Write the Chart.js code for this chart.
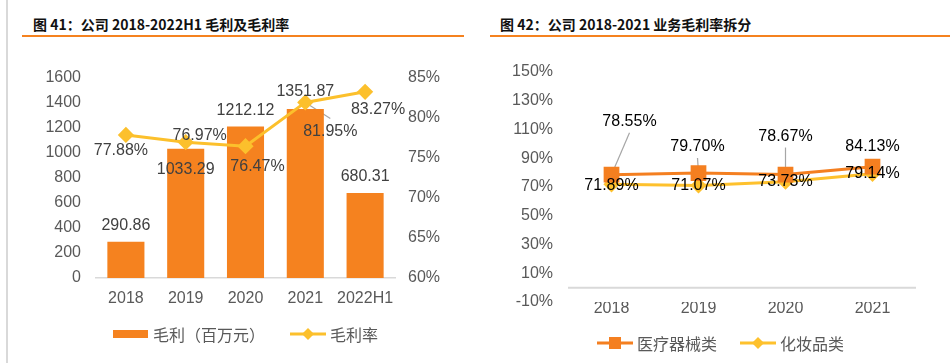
<!DOCTYPE html>
<html lang="zh-CN">
<head>
    <meta charset="UTF-8">
    <title>毛利及毛利率</title>
    <style>
        * { box-sizing: border-box; margin: 0; padding: 0; }
        body {
            width: 950px; height: 363px; background: #fff;
            position: relative; overflow: hidden;
            font-family: "Noto Sans CJK SC", sans-serif;
        }
        .edge { position: absolute; left: 6px; top: 0; width: 2px; height: 363px; background: #d9d9d9; }
        .title {
            position: absolute; top: 14px; font-size: 14px; line-height: 20px;
            font-weight: bold; color: #111; white-space: nowrap;
        }
        .rule { position: absolute; top: 35px; height: 2px; background: #f5821f; }
        .box { position: absolute; top: 40px; width: 475px; height: 323px; }
    </style>
</head>
<body>
    <div class="edge"></div>
    <div class="title" style="left:33px">图 41：公司 2018-2022H1 毛利及毛利率</div>
    <div class="rule" style="left:22px; width:442px"></div>
    <div class="title" style="left:500px">图 42：公司 2018-2021 业务毛利率拆分</div>
    <div class="rule" style="left:490px; width:460px"></div>

    <div class="box" style="left:0"><canvas id="chart1" width="475" height="323"></canvas></div>
    <div class="box" style="left:475px"><canvas id="chart2" width="475" height="323"></canvas></div>

    <script src="https://cdnjs.cloudflare.com/ajax/libs/Chart.js/4.4.1/chart.umd.min.js"></script>
    <script>
        // 数据
        const years1 = ['2018', '2019', '2020', '2021', '2022H1'];
        const grossProfit = [290.86, 1033.29, 1212.12, 1351.87, 680.31];   // 百万元
        const grossMargin = [77.88, 76.97, 76.47, 81.95, 83.27];           // %

        const years2 = ['2018', '2019', '2020', '2021'];
        const medical = [78.55, 79.70, 78.67, 84.13];     // 医疗器械类 %
        const cosmetics = [71.89, 71.07, 73.73, 79.14];   // 化妆品类 %

        // 标签位置 (像素偏移 dx, dy, 是否引线)
        const profitLabelPos = [[0, -16], [0, 21], [0, -16], [0, -17], [0, -16]];
        const marginLabelPos = [[-5, 16], [14, -7], [12, 20], [25, 29, true], [13, 18]];
        const medicalLabelPos = [[18, -53, true], [-1, -26, true], [0, -38, true], [0, -20]];
        const cosmeticsLabelPos = [[0, 1], [0, 0], [0, 0], [0, 0]];

        const ORANGE = '#f5821f';
        const YELLOW = '#fcc02c';
        const NUM_FONT = '"Liberation Sans", Arial, sans-serif';
        const CJK_FONT = '"Noto Sans CJK SC", sans-serif';
        const TICK = { color: '#595959', font: { size: 16, family: NUM_FONT } };

        // 数据标签插件
        const valueLabels = {
            id: 'valueLabels',
            beforeDatasetsDraw(chart, args, opts) {
                const ctx = chart.ctx;
                ctx.save();
                // 0 轴线
                if (opts.zeroLine) {
                    const y0 = chart.scales.y.getPixelForValue(0);
                    ctx.strokeStyle = '#d9d9d9';
                    ctx.lineWidth = 2;
                    ctx.beginPath();
                    ctx.moveTo(chart.chartArea.left, y0);
                    ctx.lineTo(chart.chartArea.right, y0);
                    ctx.stroke();
                }
                ctx.strokeStyle = '#a6a6a6';
                ctx.lineWidth = 1.2;
                chart.data.datasets.forEach((ds, i) => {
                    const meta = chart.getDatasetMeta(i);
                    meta.data.forEach((el, j) => {
                        const p = ds.labelPos[j];
                        if (!p[2]) return;
                        const lx = el.x + p[0], ly = el.y + p[1];
                        const ey = ly > el.y ? ly - 13 : ly + 11;
                        ctx.beginPath();
                        ctx.moveTo(el.x, el.y);
                        ctx.lineTo(lx, ey);
                        ctx.stroke();
                    });
                });
                ctx.restore();
            },
            afterDatasetsDraw(chart, args, opts) {
                const ctx = chart.ctx;
                ctx.save();
                ctx.font = '16px ' + NUM_FONT;
                ctx.textAlign = 'center';
                ctx.textBaseline = 'middle';
                ctx.fillStyle = opts.color;
                chart.data.datasets.forEach((ds, i) => {
                    const meta = chart.getDatasetMeta(i);
                    meta.data.forEach((el, j) => {
                        const p = ds.labelPos[j];
                        ctx.fillText(ds.labelFmt(ds.data[j]), el.x + p[0], el.y + p[1]);
                    });
                });
                ctx.restore();
            }
        };

        // 图例插件 (画在画布底部)
        function drawMarker(ctx, style, x, y, r, color) {
            ctx.fillStyle = color;
            ctx.beginPath();
            if (style === 'rect') {
                ctx.rect(x - r, y - r, r * 2, r * 2);
            } else {
                ctx.moveTo(x - r, y); ctx.lineTo(x, y - r);
                ctx.lineTo(x + r, y); ctx.lineTo(x, y + r);
                ctx.closePath();
            }
            ctx.fill();
        }
        const bottomLegend = {
            id: 'bottomLegend',
            afterDraw(chart, args, opts) {
                const ctx = chart.ctx;
                ctx.save();
                ctx.font = '16px ' + CJK_FONT;
                ctx.textBaseline = 'middle';
                opts.items.forEach(it => {
                    const y = opts.y;
                    if (it.kind === 'bar') {
                        ctx.fillStyle = it.color;
                        ctx.fillRect(it.x, y - 4, 35, 8);
                    } else {
                        ctx.strokeStyle = it.color;
                        ctx.lineWidth = 3;
                        ctx.beginPath();
                        ctx.moveTo(it.x, y); ctx.lineTo(it.x + 36, y);
                        ctx.stroke();
                        drawMarker(ctx, it.marker, it.x + 18, y, 6, it.color);
                    }
                    ctx.fillStyle = '#595959';
                    ctx.fillText(it.text, it.x + 40, y + 1);
                });
                ctx.restore();
            }
        };

        new Chart(document.getElementById('chart1'), {
            type: 'bar',
            data: {
                labels: years1,
                datasets: [
                    {
                        type: 'line',
                        label: '毛利率',
                        data: grossMargin,
                        yAxisID: 'y1',
                        order: 0,
                        borderColor: YELLOW,
                        backgroundColor: YELLOW,
                        borderWidth: 3,
                        pointStyle: 'rectRot',
                        pointRadius: 6,
                        tension: 0,
                        labelPos: marginLabelPos,
                        labelFmt: v => v.toFixed(2) + '%'
                    },
                    {
                        label: '毛利（百万元）',
                        data: grossProfit,
                        yAxisID: 'y',
                        order: 1,
                        backgroundColor: ORANGE,
                        categoryPercentage: 1,
                        barPercentage: 0.62,
                        labelPos: profitLabelPos,
                        labelFmt: v => v.toFixed(2)
                    }
                ]
            },
            options: {
                responsive: false,
                animation: false,
                layout: { padding: { top: 38, left: 0, right: 0, bottom: 0 } },
                plugins: {
                    legend: { display: false },
                    tooltip: { enabled: false },
                    valueLabels: { color: '#404040' },
                    bottomLegend: {
                        y: 294,
                        items: [
                            { kind: 'bar', x: 113, color: ORANGE, text: '毛利（百万元）' },
                            { kind: 'line', x: 290, color: YELLOW, marker: 'rectRot', text: '毛利率' }
                        ]
                    }
                },
                scales: {
                    x: {
                        grid: { display: true, color: 'transparent', drawTicks: false },
                        border: { display: true, color: '#d9d9d9', width: 1.5 },
                        ticks: { ...TICK, padding: 11, maxRotation: 0, minRotation: 0, autoSkip: false },
                        afterFit: s => { s.height = 85; }
                    },
                    y: {
                        position: 'left',
                        min: 0, max: 1600,
                        grid: { display: false, drawTicks: false },
                        border: { display: false },
                        ticks: { ...TICK, stepSize: 200, padding: 15, callback: v => String(v) },
                        afterFit: s => { s.width = 96; }
                    },
                    y1: {
                        position: 'right',
                        min: 60, max: 85,
                        grid: { display: false, drawTicks: false },
                        border: { display: false },
                        ticks: { ...TICK, stepSize: 5, padding: 13, callback: v => v + '%' },
                        afterFit: s => { s.width = 80; }
                    }
                }
            },
            plugins: [valueLabels, bottomLegend]
        });

        new Chart(document.getElementById('chart2'), {
            type: 'line',
            data: {
                labels: years2,
                datasets: [
                    {
                        label: '医疗器械类',
                        data: medical,
                        order: 0,
                        borderColor: '#f47f20',
                        backgroundColor: '#f47f20',
                        borderWidth: 3,
                        pointStyle: 'rect',
                        pointRadius: 9,
                        tension: 0,
                        labelPos: medicalLabelPos,
                        labelFmt: v => v.toFixed(2) + '%'
                    },
                    {
                        label: '化妆品类',
                        data: cosmetics,
                        order: 1,
                        borderColor: '#fec12d',
                        backgroundColor: '#fec12d',
                        borderWidth: 3,
                        pointStyle: 'rectRot',
                        pointRadius: 6,
                        tension: 0,
                        labelPos: cosmeticsLabelPos,
                        labelFmt: v => v.toFixed(2) + '%'
                    }
                ]
            },
            options: {
                responsive: false,
                animation: false,
                layout: { padding: { top: 32, left: 0, right: 34, bottom: 0 } },
                plugins: {
                    legend: { display: false },
                    tooltip: { enabled: false },
                    valueLabels: { color: '#000', zeroLine: true },
                    bottomLegend: {
                        y: 303,
                        items: [
                            { kind: 'line', x: 122, color: '#f47f20', marker: 'rect', text: '医疗器械类' },
                            { kind: 'line', x: 265, color: '#fec12d', marker: 'rectRot', text: '化妆品类' }
                        ]
                    }
                },
                scales: {
                    x: {
                        offset: true,
                        grid: { display: false, drawTicks: false },
                        border: { display: false },
                        ticks: { ...TICK, padding: -3, maxRotation: 0, minRotation: 0 },
                        afterFit: s => { s.height = 61; }
                    },
                    y: {
                        min: -10, max: 150,
                        grid: { display: false, drawTicks: false },
                        border: { display: false },
                        ticks: { ...TICK, stepSize: 20, padding: 15, callback: v => v + '%' },
                        afterFit: s => { s.width = 93; }
                    }
                }
            },
            plugins: [valueLabels, bottomLegend]
        });
    </script>
</body>
</html>
